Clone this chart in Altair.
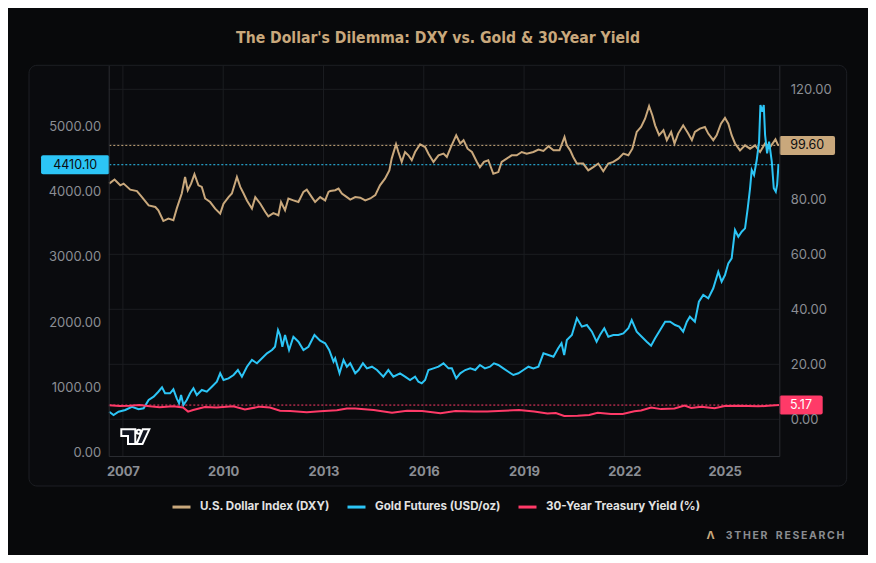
import altair as alt
import pandas as pd

# ---------------- data ----------------
dxy_year = [2006.59, 2006.75, 2006.92, 2007.02, 2007.22, 2007.42, 2007.57, 2007.77, 2007.97, 2008.06,
            2008.21, 2008.36, 2008.51, 2008.61, 2008.76, 2008.86, 2008.94, 2009.04, 2009.14, 2009.26,
            2009.36, 2009.46, 2009.61, 2009.76, 2009.91, 2010.01, 2010.16, 2010.26, 2010.41, 2010.51,
            2010.61, 2010.71, 2010.86, 2010.96, 2011.11, 2011.26, 2011.35, 2011.50, 2011.65, 2011.73,
            2011.85, 2011.95, 2012.10, 2012.25, 2012.40, 2012.50, 2012.65, 2012.75, 2012.90, 2013.05,
            2013.15, 2013.20, 2013.35, 2013.45, 2013.55, 2013.70, 2013.80, 2013.95, 2014.10, 2014.25,
            2014.40, 2014.55, 2014.69, 2014.84, 2014.97, 2015.04, 2015.17, 2015.24, 2015.34, 2015.44,
            2015.54, 2015.64, 2015.74, 2015.89, 2016.04, 2016.14, 2016.29, 2016.44, 2016.59, 2016.69,
            2016.81, 2016.97, 2017.09, 2017.19, 2017.31, 2017.44, 2017.59, 2017.68, 2017.80, 2017.93,
            2018.08, 2018.23, 2018.33, 2018.48, 2018.63, 2018.78, 2018.93, 2019.08, 2019.28, 2019.43,
            2019.58, 2019.73, 2019.88, 2020.06, 2020.21, 2020.28, 2020.38, 2020.47, 2020.58, 2020.77,
            2020.92, 2021.07, 2021.22, 2021.37, 2021.52, 2021.67, 2021.82, 2021.97, 2022.12, 2022.24,
            2022.37, 2022.50, 2022.62, 2022.74, 2022.84, 2022.92, 2023.04, 2023.17, 2023.27, 2023.40,
            2023.50, 2023.61, 2023.76, 2023.91, 2024.02, 2024.11, 2024.26, 2024.41, 2024.51, 2024.66,
            2024.76, 2024.89, 2025.01, 2025.11, 2025.21, 2025.31, 2025.46, 2025.61, 2025.76, 2025.91,
            2026.06, 2026.21, 2026.36, 2026.52, 2026.59, 2026.635]
dxy_value = [85.7, 87.2, 85.1, 85.7, 83.5, 83.0, 80.8, 77.8, 77.2, 76.0,
             72.1, 73.0, 72.4, 76.6, 82.1, 88.1, 83.3, 85.7, 89.1, 85.1,
             84.5, 80.3, 79.0, 76.6, 74.8, 78.4, 80.8, 82.1, 88.1, 84.5,
             82.1, 79.6, 76.6, 80.8, 78.4, 75.4, 73.8, 75.0, 74.2, 79.0,
             76.0, 80.3, 79.6, 79.0, 82.7, 83.5, 80.8, 79.0, 80.8, 79.6,
             82.7, 83.0, 83.3, 83.9, 82.1, 80.8, 79.9, 80.8, 80.6, 79.6,
             80.3, 81.5, 85.1, 87.5, 90.5, 94.8, 100.0, 97.2, 93.6, 97.2,
             96.0, 94.2, 97.2, 100.0, 99.0, 96.6, 93.6, 96.0, 96.6, 95.4,
             99.0, 103.3, 100.3, 101.5, 98.4, 97.2, 93.6, 91.7, 93.6, 94.2,
             89.3, 89.9, 93.6, 94.8, 96.0, 96.0, 97.2, 96.6, 97.2, 98.1,
             97.6, 99.3, 97.8, 97.8, 102.7, 99.6, 97.8, 95.4, 93.0, 93.0,
             90.5, 91.7, 93.0, 90.2, 93.0, 93.6, 94.8, 96.6, 96.0, 98.4,
             104.5, 106.3, 109.3, 113.9, 110.5, 106.9, 103.3, 105.1, 101.5, 104.5,
             100.3, 103.9, 106.9, 103.9, 101.5, 104.5, 105.7, 106.3, 103.9, 101.5,
             103.3, 107.5, 109.6, 107.5, 103.3, 100.3, 97.8, 99.6, 98.4, 99.6,
             97.2, 100.3, 99.0, 101.8, 99.9, 99.6]

gold_year = [2006.59, 2006.72, 2006.87, 2007.07, 2007.27, 2007.47, 2007.62, 2007.77, 2007.92, 2008.06,
             2008.17, 2008.26, 2008.41, 2008.51, 2008.61, 2008.68, 2008.74, 2008.81, 2008.91, 2009.01,
             2009.11, 2009.21, 2009.36, 2009.51, 2009.66, 2009.81, 2009.91, 2010.01, 2010.16, 2010.31,
             2010.44, 2010.56, 2010.71, 2010.86, 2011.01, 2011.16, 2011.31, 2011.46, 2011.55, 2011.64,
             2011.70, 2011.77, 2011.85, 2011.97, 2012.10, 2012.25, 2012.40, 2012.55, 2012.73, 2012.90,
             2013.05, 2013.17, 2013.30, 2013.35, 2013.48, 2013.60, 2013.70, 2013.80, 2013.95, 2014.05,
             2014.18, 2014.30, 2014.45, 2014.60, 2014.79, 2014.94, 2015.09, 2015.29, 2015.44, 2015.59,
             2015.74, 2015.84, 2015.94, 2016.04, 2016.14, 2016.29, 2016.44, 2016.59, 2016.74, 2016.84,
             2016.97, 2017.09, 2017.24, 2017.39, 2017.54, 2017.68, 2017.83, 2017.98, 2018.10, 2018.23,
             2018.38, 2018.53, 2018.68, 2018.83, 2018.98, 2019.13, 2019.28, 2019.43, 2019.58, 2019.73,
             2019.88, 2020.02, 2020.12, 2020.20, 2020.28, 2020.43, 2020.58, 2020.73, 2020.88, 2021.03,
             2021.17, 2021.27, 2021.40, 2021.52, 2021.67, 2021.82, 2021.97, 2022.12, 2022.22, 2022.37,
             2022.52, 2022.67, 2022.80, 2022.92, 2023.07, 2023.22, 2023.37, 2023.52, 2023.64, 2023.76,
             2023.87, 2023.96, 2024.11, 2024.23, 2024.36, 2024.51, 2024.66, 2024.81, 2024.91, 2025.01,
             2025.11, 2025.21, 2025.31, 2025.41, 2025.51, 2025.61, 2025.69, 2025.76, 2025.81, 2025.88,
             2025.96, 2026.03, 2026.07, 2026.13, 2026.17, 2026.21, 2026.27, 2026.33, 2026.41, 2026.47,
             2026.53, 2026.57, 2026.61, 2026.635]
gold_value = [628, 577, 628, 654, 704, 665, 680, 807, 858, 934,
              1001, 910, 910, 971, 833, 757, 884, 730, 807, 910,
              986, 884, 960, 934, 1011, 1087, 1216, 1113, 1139, 1190,
              1266, 1164, 1317, 1420, 1369, 1446, 1522, 1573, 1623, 1879,
              1802, 1623, 1802, 1573, 1776, 1700, 1573, 1623, 1802, 1715,
              1675, 1573, 1394, 1446, 1216, 1420, 1317, 1369, 1216, 1266,
              1369, 1292, 1317, 1266, 1164, 1266, 1164, 1216, 1164, 1113,
              1164, 1087, 1063, 1113, 1266, 1292, 1317, 1369, 1292, 1292,
              1139, 1216, 1266, 1292, 1266, 1343, 1292, 1317, 1369, 1343,
              1292, 1240, 1190, 1216, 1266, 1317, 1292, 1317, 1522, 1496,
              1470, 1599, 1675, 1496, 1726, 1802, 2058, 1930, 1955, 1853,
              1700, 1802, 1905, 1776, 1802, 1802, 1828, 1905, 2032, 1853,
              1776, 1700, 1639, 1752, 1879, 2006, 2006, 1955, 1930, 1853,
              2006, 2083, 2006, 2312, 2415, 2364, 2518, 2772, 2619, 2721,
              2900, 2977, 3410, 3308, 3384, 3436, 3743, 4049, 4329, 4253,
              4482, 4763, 5325, 5222, 5325, 4865, 4585, 4763, 4456, 4049,
              3997, 4100, 4406, 4410.1]

yield_year = [2006.58, 2006.9, 2007.2, 2007.5, 2007.8, 2008.1, 2008.5, 2008.8, 2008.95, 2009.1,
              2009.45, 2009.8, 2010.3, 2010.65, 2011.1, 2011.4, 2011.7, 2012.0, 2012.5, 2012.9,
              2013.4, 2013.7, 2013.95, 2014.5, 2015.05, 2015.5, 2015.95, 2016.5, 2016.95, 2017.5,
              2017.9, 2018.4, 2018.85, 2019.3, 2019.7, 2019.95, 2020.2, 2020.6, 2020.95, 2021.2,
              2021.6, 2021.95, 2022.3, 2022.5, 2022.8, 2023.1, 2023.5, 2023.8, 2024.0, 2024.3,
              2024.7, 2025.0, 2025.4, 2025.7, 2026.0, 2026.3, 2026.635]
yield_value = [5.1, 4.8, 4.9, 5.2, 4.7, 4.4, 4.7, 4.3, 2.8, 3.4,
               4.5, 4.3, 4.7, 3.6, 4.6, 4.3, 3.1, 3.0, 2.6, 2.9,
               3.3, 3.9, 3.9, 3.4, 2.4, 3.1, 3.0, 2.2, 3.0, 2.8,
               2.8, 3.1, 3.4, 2.8, 2.1, 2.3, 1.2, 1.3, 1.6, 2.4,
               1.9, 1.9, 2.9, 3.2, 4.3, 3.7, 3.9, 5.0, 4.1, 4.6,
               4.0, 4.8, 4.9, 4.8, 4.7, 4.9, 5.17]

series_names = ["U.S. Dollar Index (DXY)", "Gold Futures (USD/oz)", "30-Year Treasury Yield (%)"]
series_colors = ["#c9a87c", "#2cc5f6", "#ff3a68"]

last_dxy = 99.60
last_gold = 4410.10
last_yield = 5.17

x_ticks = [2007, 2010, 2013, 2016, 2019, 2022, 2025]
gold_ticks = [0, 1000, 2000, 3000, 4000, 5000]
right_grid = [0, 20, 40, 60, 80, 100, 120]
right_labels = [0, 20, 40, 60, 80, 120]   # 100.00 sits under the DXY price tag

title_text = "The Dollar's Dilemma: DXY vs. Gold & 30-Year Yield"
footer_text = "3\u2009T\u2009H\u2009E\u2009R\u2009\u2002\u2009R\u2009E\u2009S\u2009E\u2009A\u2009R\u2009C\u2009H"

# ---------------- styling ----------------
BG = "#08090b"
PANEL = "#0a0b0e"
PANEL_STROKE = "#1d1f24"
GRID = "#1b1d21"
FRAME = "#2a2c31"
AXIS_TXT = "#8b8e94"
FONT = "Inter"
TITLE_FONT = "Liberation Sans Narrow, DejaVu Sans Condensed, sans-serif"

W, H = 670.6, 390.7
X_DOMAIN = [2006.575, 2026.635]
GOLD_DOMAIN = [-50.5, 5932.6]
RIGHT_DOMAIN = [-13.35, 128.73]

df_dxy = pd.DataFrame({"year": dxy_year, "value": dxy_value, "series": series_names[0]})
df_gold = pd.DataFrame({"year": gold_year, "value": gold_value, "series": series_names[1]})
df_yield = pd.DataFrame({"year": yield_year, "value": yield_value, "series": series_names[2]})
one = pd.DataFrame({"k": [0]})

xscale = alt.Scale(domain=X_DOMAIN, nice=False, zero=False)
gscale = alt.Scale(domain=GOLD_DOMAIN, nice=False, zero=False)
rscale = alt.Scale(domain=RIGHT_DOMAIN, nice=False, zero=False)
cscale = alt.Scale(domain=series_names, range=series_colors)

x_axis = alt.Axis(values=x_ticks, format="d", title=None, grid=False, ticks=False, tickSize=0,
                  labelFont=FONT, labelFontSize=13, labelFontWeight="bold", labelColor=AXIS_TXT,
                  labelPadding=9, domain=True, domainColor=FRAME, domainWidth=1, zindex=1)
X = alt.X("year:Q", scale=xscale, axis=x_axis)

legend = alt.Legend(orient="none", legendX=62.3, legendY=431, direction="horizontal", title=None,
                    symbolType="stroke", symbolSize=324, symbolStrokeWidth=3,
                    labelFont=FONT, labelFontSize=11.6, labelFontWeight="bold", labelColor="#e2e2e2",
                    labelOffset=8, columnPadding=11, padding=0, zindex=1)
C = alt.Color("series:N", scale=cscale, legend=legend)


def rect_path(hw, hh, r):
    a = hh / hw
    rr = r / hw
    return (f"M{-1+rr},{-a} L{1-rr},{-a} Q1,{-a} 1,{-a+rr} L1,{a-rr} Q1,{a} {1-rr},{a} "
            f"L{-1+rr},{a} Q-1,{a} -1,{a-rr} L-1,{-a+rr} Q-1,{-a} {-1+rr},{-a} Z")


# panel background
panel = alt.Chart(one).mark_rect(fill=PANEL, stroke=PANEL_STROKE, strokeWidth=1, cornerRadius=8).encode(
    x=alt.value(-79.7), x2=alt.value(738), y=alt.value(0), y2=alt.value(420.7))

# grid
df_xt = pd.DataFrame({"year": x_ticks})
vgrid = alt.Chart(df_xt).mark_rule(color=GRID, strokeWidth=1).encode(x=X)
df_rt = pd.DataFrame({"value": right_grid})
hgrid = alt.Chart(df_rt).mark_rule(color=GRID, strokeWidth=1).encode(
    y=alt.Y("value:Q", scale=rscale, axis=None))

# dotted reference lines for last values
ref_dxy = alt.Chart(pd.DataFrame({"value": [last_dxy]})).mark_rule(
    color=series_colors[0], strokeDash=[2, 2], strokeWidth=1).encode(
    y=alt.Y("value:Q", scale=rscale, axis=None))
ref_gold = alt.Chart(pd.DataFrame({"value": [last_gold]})).mark_rule(
    color=series_colors[1], strokeDash=[2, 2], strokeWidth=1).encode(
    y=alt.Y("value:Q", scale=gscale, axis=None))
ref_yield = alt.Chart(pd.DataFrame({"value": [last_yield]})).mark_rule(
    color=series_colors[2], strokeDash=[2, 2], strokeWidth=1).encode(
    y=alt.Y("value:Q", scale=rscale, axis=None))

right_axis = alt.Axis(orient="right", values=right_labels, format=".2f", title=None, grid=False,
                      ticks=False, tickSize=0, labelFont=FONT, labelFontSize=13, labelColor=AXIS_TXT,
                      labelPadding=11, domain=True, domainColor=FRAME, zindex=1)
left_axis = alt.Axis(orient="left", values=gold_ticks, format=".2f", title=None, grid=False,
                     ticks=False, tickSize=0, labelFont=FONT, labelFontSize=13, labelColor=AXIS_TXT,
                     labelPadding=8, domain=True, domainColor=FRAME, zindex=1)

dxy_line = alt.Chart(df_dxy).mark_line(strokeWidth=2).encode(
    x=X, y=alt.Y("value:Q", scale=rscale, axis=right_axis), color=C)
gold_line = alt.Chart(df_gold).mark_line(strokeWidth=2).encode(
    x=X, y=alt.Y("value:Q", scale=gscale, axis=left_axis), color=C)
yield_line = alt.Chart(df_yield).mark_line(strokeWidth=2).encode(
    x=X, y=alt.Y("value:Q", scale=rscale, axis=None), color=C)


def value_box(val, scale, cx, hw, fill, txtcolor, label):
    d = pd.DataFrame({"value": [val], "label": [label]})
    box = alt.Chart(d).mark_point(shape=rect_path(hw, 9.5, 2), size=(2 * hw) ** 2, filled=True,
                                  fill=fill, fillOpacity=1, strokeWidth=0, opacity=1).encode(
        x=alt.value(cx), y=alt.Y("value:Q", scale=scale, axis=None))
    txt = alt.Chart(d).mark_text(font=FONT, fontSize=12.5, color=txtcolor, align="center",
                                 baseline="middle", dy=0).encode(
        x=alt.value(cx), y=alt.Y("value:Q", scale=scale, axis=None), text="label:N")
    return [box, txt]


boxes = []
boxes += value_box(last_gold, gscale, -33.5, 34.15, series_colors[1], "#0b0d10", f"{last_gold:.2f}")
boxes += value_box(last_dxy, rscale, 698.5, 27.85, series_colors[0], "#0b0d10", f"{last_dxy:.2f}")
boxes += value_box(last_yield, rscale, 692.3, 21.7, series_colors[2], "#ffffff", f"{last_yield:.2f}")

# TradingView-style logo
logo_path = ("M-0.847,-0.435 L-0.024,-0.435 L-0.024,0.429 L-0.453,0.429 L-0.453,-0.041 L-0.847,-0.041 Z "
             "M0.047,0.429 L0.41,-0.435 L0.8,-0.435 L0.4,0.429 Z "
             "M0.056,-0.294 A0.12,0.12 0 1,0 0.296,-0.294 A0.12,0.12 0 1,0 0.056,-0.294 Z")
logo = alt.Chart(one).mark_point(shape=logo_path, size=1156, filled=True, fill="#131722", fillOpacity=1,
                                 stroke="#ffffff", strokeWidth=2, strokeOpacity=1, opacity=1).encode(
    x=alt.value(27), y=alt.value(371.4))

title = alt.Chart(one).mark_text(text=title_text, font=TITLE_FONT, fontSize=15.6, fontWeight="bold",
                                 color=series_colors[0], align="center", baseline="alphabetic").encode(
    x=alt.value(329.3), y=alt.value(-22.6))

footer_mark = alt.Chart(one).mark_text(text="\u039b", font=FONT, fontSize=11, fontWeight="bold",
                                       color="#c9a87c", align="center", baseline="alphabetic").encode(
    x=alt.value(601.8), y=alt.value(473.7))
footer = alt.Chart(one).mark_text(text=footer_text, font=FONT, fontSize=10.5, fontWeight="bold",
                                  color="#8a8c90", align="right", baseline="alphabetic").encode(
    x=alt.value(735.6), y=alt.value(473.7))

chart = alt.layer(
    panel, vgrid, hgrid, ref_dxy, ref_gold, ref_yield,
    dxy_line, gold_line, yield_line, *boxes, logo, title, footer_mark, footer
).resolve_scale(y="independent").properties(
    width=W, height=H,
    autosize=alt.AutoSizeParams(type="none"),
    padding={"left": 100.7, "top": 57.3, "right": 88.7, "bottom": 99},
    background=BG,
).configure_view(stroke=None)

chart.save("out.html", embed_options={"renderer": "svg", "actions": False})
